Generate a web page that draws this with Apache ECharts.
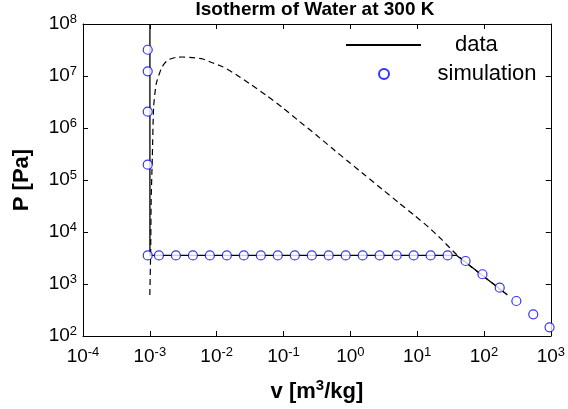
<!DOCTYPE html>
<html>
<head>
<meta charset="utf-8">
<script src="https://cdn.jsdelivr.net/npm/echarts@6/dist/echarts.min.js"></script>
<style>
html,body{margin:0;padding:0;background:#fff;}
#chart{width:568px;height:409px;}
</style>
</head>
<body>
<div id="chart"></div>
<script>
// x tick exponents (10^n) and y tick exponents
const xTickExp = [-4, -3, -2, -1, 0, 1, 2, 3];
const yTickExp = [2, 3, 4, 5, 6, 7, 8];

// "data" (solid) isotherm: specific volume v [m3/kg], pressure P [Pa]
const dataV = [0.001003, 0.001003, 39.1, 50, 70, 100, 150, 224];
const dataP = [1e8, 3540, 3540, 2770, 1980, 1385, 925, 618];

// dashed curve (EOS)
const dashV = [0.001, 0.00103, 0.001047, 0.00109, 0.00114, 0.00125, 0.00149, 0.00166, 0.00186, 0.00212,
               0.00249, 0.00308, 0.00393, 0.0062, 0.0086, 0.0123, 0.01945, 0.0307, 0.0545, 0.0962,
               0.1706, 0.303, 0.535, 0.948, 1.68, 2.97, 5.26, 9.33, 14.7, 23.2,
               36.8, 60, 100, 150, 221];
const dashP = [617, 4500, 41000, 2.8e5, 2.57e6, 7.2e6, 1.41e7, 1.74e7, 2.03e7, 2.17e7,
               2.29e7, 2.32e7, 2.29e7, 2.12e7, 1.8e7, 1.51e7, 1.07e7, 7.2e6, 4.31e6, 2.48e6,
               1.36e6, 7.5e5, 4.07e5, 2.22e5, 1.22e5, 6.7e4, 3.69e4, 2.03e4, 1.25e4, 7.2e3,
               3.95e3, 2300, 1385, 925, 617];

// "simulation" points
const simV = [0.00093, 0.00093, 0.00093, 0.00093, 0.00093,
              0.001368, 0.002455, 0.00441, 0.00791, 0.0142, 0.0255, 0.0458, 0.0822, 0.1476, 0.265,
              0.475, 0.853, 1.53, 2.75, 4.94, 8.87, 15.9, 28.6,
              53.0, 94.8, 172, 305, 546, 957];
const simP = [3.2e7, 1.23e7, 2.06e6, 1.97e5, 3540,
              3540, 3540, 3540, 3540, 3540, 3540, 3540, 3540, 3540, 3540,
              3540, 3540, 3540, 3540, 3540, 3540, 3540, 3540,
              2770, 1540, 849, 471, 261, 147];

const FONT = "'Liberation Sans', Arial, sans-serif";
const zip = (a, b) => a.map((v, i) => [v, b[i]]);

function expLabel(list) {
  return function (v) {
    const e = Math.round(Math.log10(v));
    if (list.indexOf(e) < 0) return '';
    return '{b|10}{s|' + e + '}';
  };
}
const tickRich = {
  b: { fontSize: 19, fontFamily: FONT, color: '#000' },
  s: { fontSize: 13, fontFamily: FONT, color: '#000', padding: [0, 0, 9, 0] }
};

const axisCommon = {
  type: 'log',
  logBase: 10,
  axisLine: { show: true, lineStyle: { color: '#000', width: 1 } },
  axisTick: { show: true, inside: true, length: 5, lineStyle: { color: '#000', width: 1 } },
  splitLine: { show: false },
  minorTick: { show: false },
  minorSplitLine: { show: false }
};

const chart = echarts.init(document.getElementById('chart'), null, { renderer: 'canvas' });
chart.setOption({
  animation: false,
  backgroundColor: '#fff',
  title: {
    text: 'Isotherm of Water at 300 K',
    left: 315,
    top: 0,
    padding: 0,
    textAlign: 'center',
    textStyle: { fontSize: 19, fontWeight: 'bold', fontFamily: FONT, color: '#000' }
  },
  legend: [
    {
      data: ['data'],
      left: 340, top: 29,
      itemWidth: 75, itemHeight: 14,
      selectedMode: false,
      itemStyle: { opacity: 0 },
      textStyle: { fontSize: 22, fontFamily: FONT, color: '#000', padding: [0, 0, 0, 29] }
    },
    {
      data: ['simulation'],
      left: 373, top: 58,
      itemWidth: 75, itemHeight: 10,
      selectedMode: false,
      textStyle: { fontSize: 22, fontFamily: FONT, color: '#000', padding: [0, 0, 0, 11] }
    }
  ],
  grid: { left: 83, right: 15, top: 24, bottom: 73, containLabel: false },
  xAxis: [
    Object.assign({}, axisCommon, {
      position: 'bottom',
      min: 1e-4, max: 1e3, splitNumber: 7,
      axisLabel: { formatter: expLabel(xTickExp), margin: 10, rich: tickRich },
      name: 'v [m{s|3}/kg]',
      nameLocation: 'middle',
      nameGap: 42,
      nameTextStyle: {
        fontSize: 22, fontWeight: 'bold', fontFamily: FONT, color: '#000',
        rich: { s: { fontSize: 15, fontWeight: 'bold', fontFamily: FONT, color: '#000', padding: [0, 0, 12, 0] } }
      }
    }),
    Object.assign({}, axisCommon, {
      position: 'top',
      min: 1e-4, max: 1e3, splitNumber: 7,
      axisLabel: { show: false }
    })
  ],
  yAxis: [
    Object.assign({}, axisCommon, {
      position: 'left',
      min: 1e2, max: 1e8, splitNumber: 6,
      axisLabel: { formatter: expLabel(yTickExp), margin: 6, rich: tickRich },
      name: 'P [Pa]',
      nameLocation: 'middle',
      nameGap: 50,
      nameTextStyle: { fontSize: 22, fontWeight: 'bold', fontFamily: FONT, color: '#000' }
    }),
    Object.assign({}, axisCommon, {
      position: 'right',
      min: 1e2, max: 1e8, splitNumber: 6,
      axisLabel: { show: false }
    })
  ],
  series: [
    {
      name: 'eos',
      type: 'line',
      data: zip(dashV, dashP),
      symbol: 'none',
      smooth: 0.2,
      lineStyle: { color: '#000', width: 1.2, type: [6, 4] },
      z: 2
    },
    {
      name: 'data',
      type: 'line',
      data: zip(dataV, dataP),
      symbol: 'none',
      lineStyle: { color: '#000', width: 1.3 },
      z: 3
    },
    {
      name: 'simulation',
      type: 'scatter',
      data: zip(simV, simP),
      symbol: 'circle',
      symbolSize: 9,
      itemStyle: { color: '#fff', borderColor: '#0000ff', borderWidth: 1.2 },
      z: 4
    }
  ]
});
</script>
</body>
</html>
